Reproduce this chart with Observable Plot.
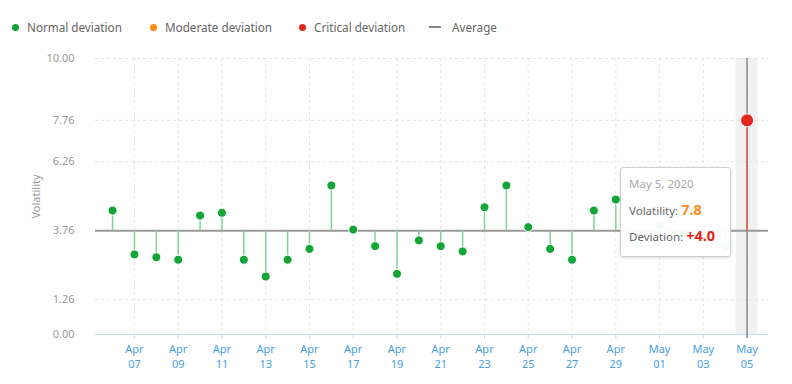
<!DOCTYPE html>
<html>
<head>
<meta charset="utf-8">
<script src="https://cdn.jsdelivr.net/npm/d3@7"></script>
<script src="https://cdn.jsdelivr.net/npm/@observablehq/plot@0.6"></script>
<style>
  body { margin: 0; background: #fff; font-family: "Noto Sans", sans-serif; }
  #wrap { position: relative; width: 792px; height: 384px; overflow: hidden; }
  #legend { position: relative; height: 50px; font-size: 11.7px; color: #666; }
  .item { position: absolute; top: 18px; line-height: 18px; white-space: nowrap; }
  .dot { display: inline-block; width: 7px; height: 7px; border-radius: 50%; margin-right: 8px; vertical-align: 1px; }
  .dash { display: inline-block; width: 12px; height: 2px; background: #888; margin-right: 11px; vertical-align: 4px; }
  #tip { position: absolute; background: rgba(255,255,255,0.95); border: 1px solid #cfcfcf; border-radius: 3px;
         box-shadow: 0 1px 3px rgba(0,0,0,0.15); font-size: 11.5px; color: #666; box-sizing: border-box; padding: 8px 0 0 8px; }
  #tip .date { color: #aaa; margin-bottom: 8px; }
  #tip .row { height: 26px; line-height: 20px; }
  #tip b { font-size: 14.5px; }
</style>
</head>
<body>
<div id="wrap">
  <div id="legend"></div>
  <div id="chart"></div>
  <div id="tip"></div>
</div>
<script>
const dates = ["2020-04-06","2020-04-07","2020-04-08","2020-04-09","2020-04-10","2020-04-11","2020-04-12","2020-04-13","2020-04-14","2020-04-15",
               "2020-04-16","2020-04-17","2020-04-18","2020-04-19","2020-04-20","2020-04-21","2020-04-22","2020-04-23","2020-04-24","2020-04-25",
               "2020-04-26","2020-04-27","2020-04-28","2020-04-29","2020-04-30","2020-05-01","2020-05-02","2020-05-03","2020-05-04","2020-05-05"];
const volatility = [4.49, 2.90, 2.80, 2.71, 4.31, 4.41, 2.71, 2.10, 2.71, 3.10,
                    5.40, 3.80, 3.20, 2.20, 3.41, 3.20, 3.01, 4.61, 5.40, 3.89,
                    3.10, 2.71, 4.49, 4.89, 3.34, 3.95, 3.60, 3.50, 3.15, 7.76];
const levels = ["Normal","Normal","Normal","Normal","Normal","Normal","Normal","Normal","Normal","Normal",
                "Normal","Normal","Normal","Normal","Normal","Normal","Normal","Normal","Normal","Normal",
                "Normal","Normal","Normal","Normal","Normal","Normal","Normal","Normal","Normal","Critical"];
const average = 3.76;
const yTicks = [0, 1.26, 3.76, 6.26, 7.76, 10];
const xTicks = ["2020-04-07","2020-04-09","2020-04-11","2020-04-13","2020-04-15","2020-04-17","2020-04-19","2020-04-21",
                "2020-04-23","2020-04-25","2020-04-27","2020-04-29","2020-05-01","2020-05-03","2020-05-05"];
const highlight = "2020-05-05";
const legendItems = ["Normal deviation", "Moderate deviation", "Critical deviation", "Average"];
const legendColors = ["#13a538", "#ff8c1a", "#e2261c", "#888"];
const levelColor = {Normal: "#13a538", Moderate: "#ff8c1a", Critical: "#e2261c"};
const stemColor = {Normal: "#7fd39b", Moderate: "#ffb86b", Critical: "#f0594a"};

const data = dates.map((d, i) => ({date: new Date(d), value: volatility[i], level: levels[i]}));
const hl = new Date(highlight);
const DAY = 864e5;

// legend
const legendLeft = [12, 150, 299, 429];
const legend = document.getElementById("legend");
legendItems.forEach((t, i) => {
  const el = document.createElement("div");
  el.className = "item";
  el.style.left = legendLeft[i] + "px";
  const mark = document.createElement("span");
  mark.className = i === 3 ? "dash" : "dot";
  mark.style.background = legendColors[i];
  el.appendChild(mark);
  el.appendChild(document.createTextNode(t));
  legend.appendChild(el);
});

const normal = data.filter(d => d.level !== "Critical");
const critical = data.filter(d => d.level === "Critical");

const chart = Plot.plot({
  width: 792, height: 334,
  marginTop: 8, marginBottom: 50, marginLeft: 95, marginRight: 24,
  style: {fontFamily: "Noto Sans, sans-serif", fontSize: "11px", background: "transparent"},
  x: {type: "utc", domain: [new Date(+new Date(dates[0]) - 0.78 * DAY), new Date(+hl + 0.98 * DAY)]},
  y: {domain: [0, 10]},
  marks: [
    Plot.rect([hl], {x1: d => new Date(+d - DAY / 2), x2: d => new Date(+d + DAY / 2), y1: 0, y2: 10, fill: "#f1f1f1"}),
    Plot.ruleY(yTicks.filter(t => t !== 0 && t !== average), {stroke: "#e4e4e4", strokeDasharray: "3,3"}),
    Plot.ruleX(xTicks.map(d => new Date(d)), {stroke: "#e4e4e4", strokeDasharray: "3,3"}),
    Plot.ruleY([0], {stroke: "#c9dbf3"}),
    Plot.axisY({ticks: yTicks, tickFormat: d3.format(".2f"), tickSize: 0, tickPadding: 21, color: "#9a9a9a",
                label: "Volatility", labelAnchor: "center", labelOffset: 63, labelArrow: "none"}),
    Plot.axisX({ticks: xTicks.map(d => new Date(d)), tickFormat: d3.utcFormat("%b\n%d"), tickSize: 5, tickPadding: 3,
                fill: "#4a9ee6", stroke: "#c9dbf3", lineHeight: 1.35, label: null}),
    Plot.ruleY([average], {stroke: "#9a9a9a", strokeWidth: 2}),
    Plot.ruleX([hl], {stroke: "#8a8a8a", strokeWidth: 1.5, insetBottom: -4}),
    Plot.ruleX(data, {x: "date", y1: average, y2: "value", stroke: d => stemColor[d.level], strokeWidth: 1.5}),
    Plot.dot(normal, {x: "date", y: "value", r: 4.5, fill: d => levelColor[d.level], stroke: "white", strokeWidth: 1}),
    Plot.dot(critical, {x: "date", y: "value", r: 6.5, fill: d => levelColor[d.level], stroke: "white", strokeWidth: 1})
  ]
});
document.getElementById("chart").appendChild(chart);

// tooltip for the highlighted day
const hd = data.find(d => +d.date === +hl);
const tip = document.getElementById("tip");
tip.style.left = "620px"; tip.style.top = "167px"; tip.style.width = "111px"; tip.style.height = "90px";
const dev = hd.value - average;
tip.innerHTML = `<div class="date">${d3.utcFormat("%b %-d, %Y")(hd.date)}</div>
  <div class="row">Volatility: <b style="color:#ff8c1a">${hd.value.toFixed(1)}</b></div>
  <div class="row">Deviation: <b style="color:#e2261c">${(dev >= 0 ? "+" : "") + dev.toFixed(1)}</b></div>`;
</script>
</body>
</html>
